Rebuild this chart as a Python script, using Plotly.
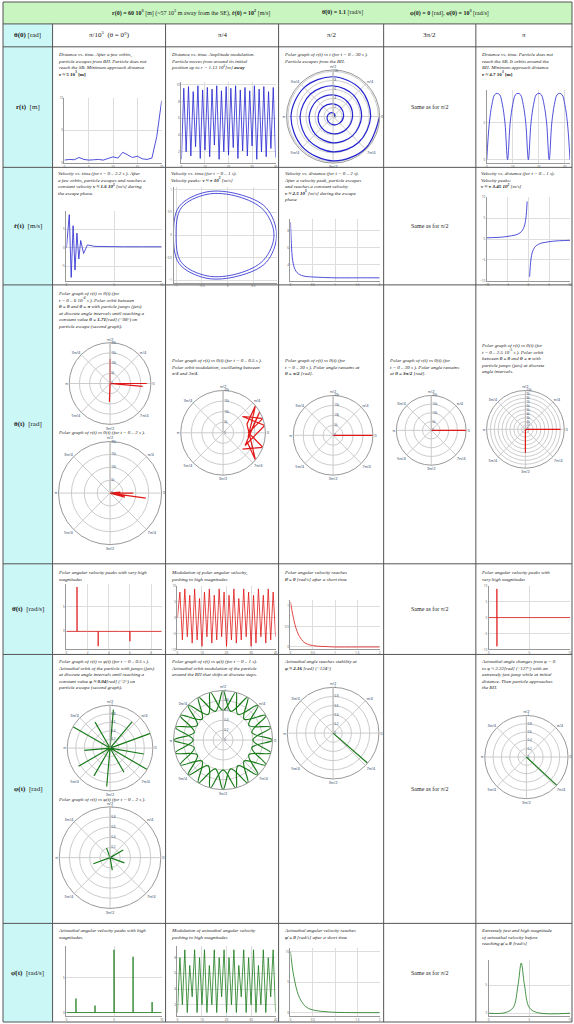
import plotly.graph_objects as go

W, H = 574, 1024
# table grid (pixels)
col_x = [0, 50, 164, 278, 384, 477, 574]
row_y = [0, 22, 45, 166, 284, 564, 655, 925, 1024]

header_main = ["<b>r(0) = 60 10<sup>3</sup></b> [m] (~57 10<sup>3</sup> m away from the SE), <b>ṙ(0) = 10<sup>2</sup></b> [m/s]",
               "<b>θ̇(0) = 1.1</b> [rad/s]",
               "<b>φ(0) = 0</b> [rad], <b>φ̇(0) = 10<sup>3</sup></b> [rad/s]"]
theta0_labels = ["π/10<sup>5</sup>  (θ = 0°)", "π/4", "π/2", "3π/2", "π"]
row_labels = ["<b>θ(0)</b> [rad]", "<b>r(t)</b>  [m]", "<b>ṙ(t)</b>  [m/s]", "<b>θ(t)</b>  [rad]",
              "<b>θ̇(t)</b>  [rad/s]", "<b>φ(t)</b>  [rad]", "<b>φ̇(t)</b>  [rad/s]"]

# ---- data (approximate) ----
r1_t = [0, 1, 2, 3, 4, 5, 6, 7, 8, 9, 10, 11, 12, 13, 14, 15, 16, 17, 18, 19, 20]
r1_r = [0.4, 0.5, 0.45, 0.8, 0.5, 0.4, 0.45, 0.5, 0.4, 0.6, 0.9, 0.7, 1.6, 1.2, 0.8, 1.0, 0.6, 0.5, 0.7, 4.0, 9.5]
r2_t = list(range(41))
r2_r = [1.1, 9.6, 2.0, 9.8, 1.5, 9.2, 2.6, 9.9, 1.2, 9.4, 2.2, 9.7, 1.4, 9.5, 2.8, 9.9, 1.1, 9.3, 2.0, 9.8,
        1.6, 9.6, 2.5, 9.9, 1.2, 9.4, 2.1, 9.7, 1.5, 9.3, 2.7, 9.9, 1.1, 9.5, 2.0, 9.8, 1.4, 9.2, 2.4, 9.7, 1.3]
spiral_th = [0, 45, 90, 135, 180, 225, 270, 315, 360, 405, 450, 495, 540, 585, 630, 675, 720, 765, 810, 855,
             900, 945, 990, 1035, 1080, 1125, 1170, 1215, 1260, 1305, 1350, 1395, 1440, 1485, 1530, 1575,
             1620, 1665, 1710, 1755, 1800]
spiral_r = [0.3, 0.55, 0.8, 1.05, 1.3, 1.55, 1.8, 2.05, 2.3, 2.55, 2.8, 3.05, 3.3, 3.55, 3.8, 4.05, 4.3, 4.55,
            4.8, 5.05, 5.3, 5.55, 5.8, 6.05, 6.3, 6.55, 6.8, 7.05, 7.3, 7.55, 7.8, 8.05, 8.3, 8.55, 8.8, 9.05,
            9.3, 9.55, 9.8, 10.05, 10.3]
r5_t = [0, 1, 2, 3, 4, 5, 6, 7, 8, 9, 10, 11, 12, 13, 14, 15, 16, 17, 18, 19, 20, 21, 22, 23, 24, 25, 26, 27, 28, 29, 30, 31, 32]
r5_r = [0, 5, 7.5, 8.8, 9, 8.8, 7.5, 5, 0, 5, 7.5, 8.8, 9, 8.8, 7.5, 5, 0, 5, 7.5, 8.8, 9, 8.8, 7.5, 5, 0, 5, 7.5, 8.8, 9, 8.8, 7.5, 5, 0]

v1_t = [0, 0.3, 0.5, 0.7, 0.9, 1.1, 1.3, 1.5, 1.8, 2.2, 3, 4, 6, 8, 10]
v1_v = [0, 9, -8, 6, -6, 4, -3, 2, -1.5, 0.8, 0.4, 0.3, 0.3, 0.3, 0.3]
v2_x = [0.9, 0.7, 0.2, -0.4, -0.9, -1.0, -0.9, -0.4, 0.2, 0.7, 0.9]
v2_y = [0, 0.55, 0.85, 0.9, 0.6, 0, -0.6, -0.9, -0.85, -0.55, 0]
v2_x2 = [0.95, 0.75, 0.22, -0.42, -0.94, -1.05, -0.94, -0.42, 0.22, 0.75, 0.95]
v2_y2 = [0, 0.6, 0.9, 0.95, 0.63, 0, -0.63, -0.95, -0.9, -0.6, 0]
v3_t = [0, 0.02, 0.05, 0.1, 0.15, 0.2, 0.3, 0.5, 0.7, 1.0, 1.5, 2.0]
v3_v = [9, 6.5, 4.5, 3.5, 3.1, 2.9, 2.7, 2.6, 2.55, 2.5, 2.5, 2.5]
v5_x1 = [-10, -6, -4, -3, -2, -1.5, -1, -0.6, -0.3]
v5_y1 = [0.3, 0.5, 0.8, 1.0, 1.5, 2.0, 3.0, 5.0, 9.0]
v5_x2 = [0.3, 0.6, 1, 1.5, 2, 3, 4, 6, 10]
v5_y2 = [-9.0, -5.0, -3.0, -2.0, -1.5, -1.0, -0.8, -0.5, -0.3]

th1a_r = [0, 18000, 0, 12000, 0, 16000, 0, 9000, 0]
th1a_t = [0, 0, 0, 90, 0, 355, 0, 268, 0]
th1b_r = [0, 14000, 0, 9000, 0, 6000, 0, 4000, 0]
th1b_t = [0, 352, 0, 0, 0, 345, 0, 5, 0]
th2_r = [12000, 20000, 12000, 20000, 12000, 20000, 12000, 20000, 12000, 20000, 12000, 20000, 12000]
th2_t = [-40, -20, 0, 20, 40, 10, -30, 30, -10, 40, 20, -40, -20]
th3_r = [0, 20000]
th3_t = [0, 0]
th5_r = [0, 9000, 0, 6000]
th5_t = [0, 0, 0, 270]

td1_t = [0, 1, 1, 1.01, 2, 3, 3, 3.01, 5, 6, 6, 6.01, 9]
td1_v = [0, 0, 9, 0, 0, 0, -3, 0, 0, 0, -2, 0, 0]
td2_t = list(range(41))
td2_v = [0, 8, -7, 9, -6, 7, -8, 9, -7, 6, -9, 8, -6, 9, -8, 7, -7, 9, -6, 8,
         -9, 7, -7, 9, -8, 6, -7, 9, -6, 8, -9, 7, -8, 9, -6, 7, -8, 9, -7, 8, -6]
td3_t = [0, 0.05, 0.1, 0.15, 0.2, 0.3, 0.4, 0.6, 0.8, 1.0, 1.5, 2.0]
td3_v = [1.1, 0.8, 0.55, 0.38, 0.26, 0.12, 0.06, 0.02, 0.01, 0, 0, 0]
td5_t = [0, 1, 1, 1.01, 1.01, 1.02, 10]
td5_v = [0, 0, 9, 9, -9, 0, 0]

ph1a_r = [0, 1, 0, 0.8, 0, 0.9, 0, 0.7, 0, 1, 0, 0.6, 0, 0.85, 0, 0.75, 0, 0.9, 0, 0.65, 0, 1, 0, 0.8, 0]
ph1a_t = [0, 20, 0, 50, 0, 85, 0, 120, 0, 150, 0, 185, 0, 210, 0, 240, 0, 265, 0, 300, 0, 330, 0, 350, 0]
ph1b_r = [0, 0.3, 0, 0.2, 0, 0.35, 0, 0.25, 0, 0.3, 0]
ph1b_t = [0, 30, 0, 110, 0, 200, 0, 280, 0, 340, 0]
ph2_t = [0, 15, 30, 45, 60, 75, 90, 105, 120, 135, 150, 165, 180, 195, 210, 225, 240, 255, 270, 285, 300, 315, 330, 345, 360]
ph2_r = [0.6, 1.0, 0.6, 1.0, 0.6, 1.0, 0.6, 1.0, 0.6, 1.0, 0.6, 1.0, 0.6, 1.0, 0.6, 1.0, 0.6, 1.0, 0.6, 1.0, 0.6, 1.0, 0.6, 1.0, 0.6]
ph2_r2 = [1.0, 0.6, 1.0, 0.6, 1.0, 0.6, 1.0, 0.6, 1.0, 0.6, 1.0, 0.6, 1.0, 0.6, 1.0, 0.6, 1.0, 0.6, 1.0, 0.6, 1.0, 0.6, 1.0, 0.6, 1.0]
ph3_r = [0, 1]
ph3_t = [0, -41]
ph5_r = [0, 1]
ph5_t = [0, -43]

pd1_t = [0, 1, 1, 1.01, 3, 3, 3.01, 5, 5, 5.01, 7, 7, 7.01, 9, 9, 9.01, 10]
pd1_v = [0, 0, 2, 0, 0, 1, 0, 0, 9, 0, 0, 8, 0, 0, 1.5, 0, 0]
pd2_t = list(range(41))
pd2_v = [1, 8, 2, 9, 1, 7, 3, 9, 1, 8, 2, 9, 1, 7, 2, 9, 1, 8, 3, 9,
         1, 8, 2, 9, 1, 7, 3, 9, 1, 8, 2, 9, 1, 7, 2, 9, 1, 8, 3, 9, 1]
pd3_t = [0, 0.05, 0.1, 0.15, 0.2, 0.3, 0.4, 0.6, 0.8, 1.0, 1.5, 2.0]
pd3_v = [10, 7, 5, 3.5, 2.5, 1.3, 0.7, 0.3, 0.15, 0.05, 0, 0]
pd5_t = [0, 2, 3, 3.6, 4, 4.4, 5, 6, 10]
pd5_v = [0, 0.1, 1, 5, 9, 5, 1, 0.1, 0]

BLUE, RED, GREEN = "#2424d0", "#e01818", "#1a7a1a"

fig = go.Figure()
shapes, annots = [], []
n_xy, n_pol = [0], [0]


def fx(x):
    return x / W


def fy(y):
    return 1 - y / H


def rect(x0, y0, x1, y1, fill):
    shapes.append(dict(type="rect", xref="paper", yref="paper", x0=fx(x0), x1=fx(x1), y0=fy(y1), y1=fy(y0),
                       fillcolor=fill, line=dict(width=0), layer="below"))


def text(x, y, s, size=5, xanchor="left", yanchor="top", align="left"):
    annots.append(dict(xref="paper", yref="paper", x=fx(x), y=fy(y), text=s, showarrow=False,
                       xanchor=xanchor, yanchor=yanchor, align=align,
                       font=dict(family="Liberation Serif", size=size, color="#222")))


def xy_plot(box, xs_list, color, shape="linear"):
    n_xy[0] += 1
    k = n_xy[0]
    x0, x1, y0, y1 = box
    for xs, ys in xs_list:
        fig.add_trace(go.Scatter(x=xs, y=ys, mode="lines", line=dict(color=color, width=0.8, shape=shape),
                                 xaxis=f"x{k}", yaxis=f"y{k}", showlegend=False))
    ax = dict(showgrid=True, gridcolor="#ddd", zeroline=False, showline=True, linecolor="#999",
              tickfont=dict(size=3, color="#555"), ticks="")
    fig.layout[f"xaxis{k}"] = dict(ax, domain=[fx(x0), fx(x1)], anchor=f"y{k}")
    fig.layout[f"yaxis{k}"] = dict(ax, domain=[fy(y1), fy(y0)], anchor=f"x{k}")


def polar_plot(box, traces, color, rmax=None, shape="linear"):
    n_pol[0] += 1
    k = n_pol[0]
    name = "polar" if k == 1 else f"polar{k}"
    x0, x1, y0, y1 = box
    for rr, tt in traces:
        fig.add_trace(go.Scatterpolar(r=rr, theta=tt, mode="lines",
                                      line=dict(color=color, width=1.2, shape=shape),
                                      subplot=name, showlegend=False))
    radial = dict(tickfont=dict(size=3), gridcolor="#ccc", linecolor="#bbb", angle=90, tickangle=90)
    if rmax:
        radial["range"] = [0, rmax]
    fig.layout[name] = dict(domain=dict(x=[fx(x0), fx(x1)], y=[fy(y1), fy(y0)]), bgcolor="white",
                            radialaxis=radial,
                            angularaxis=dict(tickfont=dict(size=4), gridcolor="#ccc", linecolor="#999",
                                             tickvals=[0, 45, 90, 135, 180, 225, 270, 315],
                                             ticktext=["0", "π/4", "π/2", "3π/4", "π", "5π/4", "3π/2", "7π/4"]))


# backgrounds
rect(0, row_y[0], W, row_y[1], "#c8f5c0")
rect(0, row_y[1], col_x[1], H, "#ccf7f7")

# grid lines
for y in row_y:
    shapes.append(dict(type="line", xref="paper", yref="paper", x0=0, x1=1, y0=fy(y), y1=fy(y),
                       line=dict(color="#555", width=1)))
for i, x in enumerate(col_x):
    y_top = row_y[1] if 0 < i < len(col_x) - 1 else row_y[0]
    shapes.append(dict(type="line", xref="paper", yref="paper", x0=fx(x), x1=fx(x), y0=fy(y_top), y1=0,
                       line=dict(color="#555", width=1)))

# header
text(190, 11, header_main[0], size=6, xanchor="center", yanchor="middle")
text(342, 11, header_main[1], size=6, xanchor="center", yanchor="middle")
text(450, 11, header_main[2], size=6, xanchor="center", yanchor="middle")
for j, lab in enumerate(theta0_labels):
    text((col_x[j + 1] + col_x[j + 2]) / 2, 33, lab, size=7, xanchor="center", yanchor="middle", align="center")
for i, lab in enumerate(row_labels):
    text(25, (row_y[i + 1] + row_y[i + 2]) / 2, lab, size=7, xanchor="center", yanchor="middle", align="center")

# same-as cells (the theta(t) row has its own graph)
for i in [2, 3, 5, 6, 7]:
    text((col_x[4] + col_x[5]) / 2, (row_y[i] + row_y[i + 1]) / 2, "Same as for π/2", size=6,
         xanchor="center", yanchor="middle", align="center")

# ---- r(t) row ----
text(53, 48, "<i>Distance vs. time. After a few orbits,<br>particle escapes from BH. Particle does not<br>"
             "reach the SB. Minimum approach distance<br></i><b>r ≈ 5 10<sup>3</sup> [m]</b>")
xy_plot((62, 160, 96, 162), [(r1_t, r1_r)], BLUE)
text(167, 48, "<i>Distance vs. time. Amplitude modulation.<br>Particle moves from around its initial<br>"
              "position up to r = 1.13 10<sup>5</sup>[m] <b>away</b></i>")
xy_plot((180, 275, 80, 162), [(r2_t, r2_r)], BLUE)
text(281, 48, "<i>Polar graph of r(t) vs t (for t = 0 .. 30 s ).<br>Particle escapes from the BH.</i>")
polar_plot((286, 380, 66, 164), [(spiral_r, spiral_th)], BLUE, shape="spline")
text(480, 48, "<i>Distance vs. time. Particle does not<br>reach the SB. It orbits around the<br>"
              "BH. Minimum approach distance<br></i><b>r ≈ 4.7 10<sup>3</sup> [m]</b>")
xy_plot((488, 572, 88, 162), [(r5_t, r5_r)], BLUE, shape="spline")

# ---- rdot row ----
text(53, 168, "<i>Velocity vs. time (for t = 0 .. 2.2 s ). After<br>a few orbits, particle escapes and reaches a<br>"
              "constant velocity <b>v ≈ 1.6 10<sup>5</sup></b> [m/s] during<br>the escape phase.</i>")
xy_plot((64, 160, 210, 280), [(v1_t, v1_v)], BLUE)
text(167, 168, "<i>Velocity vs. time (for t = 0 .. 1 s).<br>Velocity peaks: <b>v ≈ ± 10<sup>5</sup></b> [m/s]</i>")
xy_plot((172, 276, 186, 282), [(v2_x, v2_y), (v2_x2, v2_y2)], BLUE, shape="spline")
text(281, 168, "<i>Velocity vs. distance (for t = 0 .. 2 s).<br>After a velocity peak, particle escapes<br>"
               "and reaches a constant velocity<br><b>v ≈ 2.5 10<sup>5</sup></b> [m/s] during the escape<br>phase</i>")
xy_plot((290, 380, 218, 280), [(v3_t, v3_v)], BLUE, shape="spline")
text(480, 168, "<i>Velocity vs. distance (for t = 0 .. 1 s).<br>Velocity peaks:<br><b>v ≈ ± 3.45 10<sup>5</sup></b> [m/s]</i>")
xy_plot((488, 572, 196, 280), [(v5_x1, v5_y1), (v5_x2, v5_y2)], BLUE, shape="spline")

# ---- theta row ----
text(53, 288, "<i>Polar graph of r(t) vs θ(t) (for<br>t = 0 .. 6 10<sup>-4</sup> s ). Polar orbit between<br>"
              "<b>θ = 0</b> and <b>θ = π</b> with particle jumps (jets)<br>at discrete angle intervals until reaching a<br>"
              "constant value <b>θ = 1.71</b>[rad] (~98°) on<br>particle escape (second graph).</i>")
polar_plot((56, 160, 342, 424), [(th1a_r, th1a_t)], RED, 20000)
text(53, 428, "<i>Polar graph of r(t) vs θ(t) (for t = 0 .. 2 s ).</i>")
polar_plot((56, 160, 440, 546), [(th1b_r, th1b_t)], RED, 20000)
text(167, 355, "<i>Polar graph of r(t) vs θ(t) (for t = 0 .. 0.5 s ).<br>Polar orbit modulation, oscillating between<br>"
               "π/4 and 3π/4.</i>")
polar_plot((172, 272, 390, 475), [(th2_r, th2_t)], RED, 20000)
text(281, 355, "<i>Polar graph of r(t) vs θ(t) (for<br>t = 0 .. 30 s ). Polar angle remains at<br><b>θ = π/2</b> [rad].</i>")
polar_plot((286, 380, 395, 475), [(th3_r, th3_t)], RED, 20000)
text(387, 355, "<i>Polar graph of r(t) vs θ(t) (for<br>t = 0 .. 30 s ). Polar angle remains<br>at <b>θ = 3π/2</b> [rad].</i>")
polar_plot((390, 474, 395, 465), [(th3_r, th3_t)], RED, 20000)
text(480, 340, "<i>Polar graph of r(t) vs θ(t) (for<br>t = 0 .. 2.5 10<sup>-5</sup> s ). Polar orbit<br>"
               "between <b>θ = 0</b> and <b>θ = π</b> with<br>particle jumps (jets) at discrete<br>angle intervals.</i>")
polar_plot((484, 570, 390, 468), [(th5_r, th5_t)], RED, 10000)

# ---- thetadot row ----
text(53, 568, "<i>Polar angular velocity peaks with very high<br>magnitudes</i>")
xy_plot((64, 160, 584, 650), [(td1_t, td1_v)], RED)
text(167, 568, "<i>Modulation of polar angular velocity,<br>pushing to high magnitudes</i>")
xy_plot((176, 275, 586, 650), [(td2_t, td2_v)], RED)
text(281, 568, "<i>Polar angular velocity reaches<br><b>θ̇ = 0</b> [rad/s] after a short time</i>")
xy_plot((290, 380, 600, 650), [(td3_t, td3_v)], RED, shape="spline")
text(480, 568, "<i>Polar angular velocity peaks with<br>very high magnitudes</i>")
xy_plot((490, 572, 586, 650), [(td5_t, td5_v)], RED)

# ---- phi row ----
text(53, 658, "<i>Polar graph of r(t) vs φ(t) (for t = 0 .. 0.5 s ).<br>Azimuthal orbit of the particle with jumps (jets)<br>"
              "at discrete angle intervals until reaching a<br>constant value <b>φ ≈ 0.04</b>[rad] (~2°) on<br>"
              "particle escape (second graph).</i>")
polar_plot((56, 160, 706, 792), [(ph1a_r, ph1a_t)], GREEN, 1)
text(53, 796, "<i>Polar graph of r(t) vs φ(t) (for t = 0 .. 2 s ).</i>")
polar_plot((56, 160, 808, 910), [(ph1b_r, ph1b_t)], GREEN, 1)
text(167, 658, "<i>Polar graph of r(t) vs φ(t) (for t = 0 .. 1 s).<br>Azimuthal orbit modulation of the particle<br>"
               "around the BH that shifts at discrete steps.</i>")
polar_plot((172, 272, 690, 792), [(ph2_r, ph2_t), (ph2_r2, ph2_t)], GREEN, 1, shape="spline")
text(281, 658, "<i>Azimuthal angle reaches stability at<br><b>φ ≈ 2.16</b> [rad] (~124°)</i>")
polar_plot((286, 380, 688, 780), [(ph3_r, ph3_t)], GREEN, 1)
text(480, 658, "<i>Azimuthal angle changes from φ = 0<br>to φ ≈ 2.22[rad] (~127°) with an<br>"
               "extremely fast jump while at initial<br>distance. Then particle approaches<br>the BH.</i>")
polar_plot((486, 570, 712, 804), [(ph5_r, ph5_t)], GREEN, 1)

# ---- phidot row ----
text(53, 928, "<i>Azimuthal angular velocity peaks with high<br>magnitudes.</i>")
xy_plot((64, 160, 948, 1018), [(pd1_t, pd1_v)], GREEN)
text(167, 928, "<i>Modulation of azimuthal angular velocity<br>pushing to high magnitudes</i>")
xy_plot((176, 275, 948, 1018), [(pd2_t, pd2_v)], GREEN)
text(281, 928, "<i>Azimuthal angular velocity reaches<br><b>φ̇ = 0</b> [rad/s] after a short time</i>")
xy_plot((290, 380, 950, 1018), [(pd3_t, pd3_v)], GREEN, shape="spline")
text(480, 928, "<i>Extremely fast and high magnitude<br>of azimuthal velocity before<br>reaching <b>φ̇ = 0</b> [rad/s]</i>")
xy_plot((490, 572, 962, 1018), [(pd5_t, pd5_v)], GREEN, shape="spline")

fig.update_layout(width=W, height=H, margin=dict(l=0, r=0, t=0, b=0), paper_bgcolor="white",
                  plot_bgcolor="white", shapes=shapes, annotations=annots, showlegend=False)
fig.write_html("out.html", config={"displayModeBar": False},
               post_script="document.body.style.margin='0';document.body.style.overflow='hidden';")
